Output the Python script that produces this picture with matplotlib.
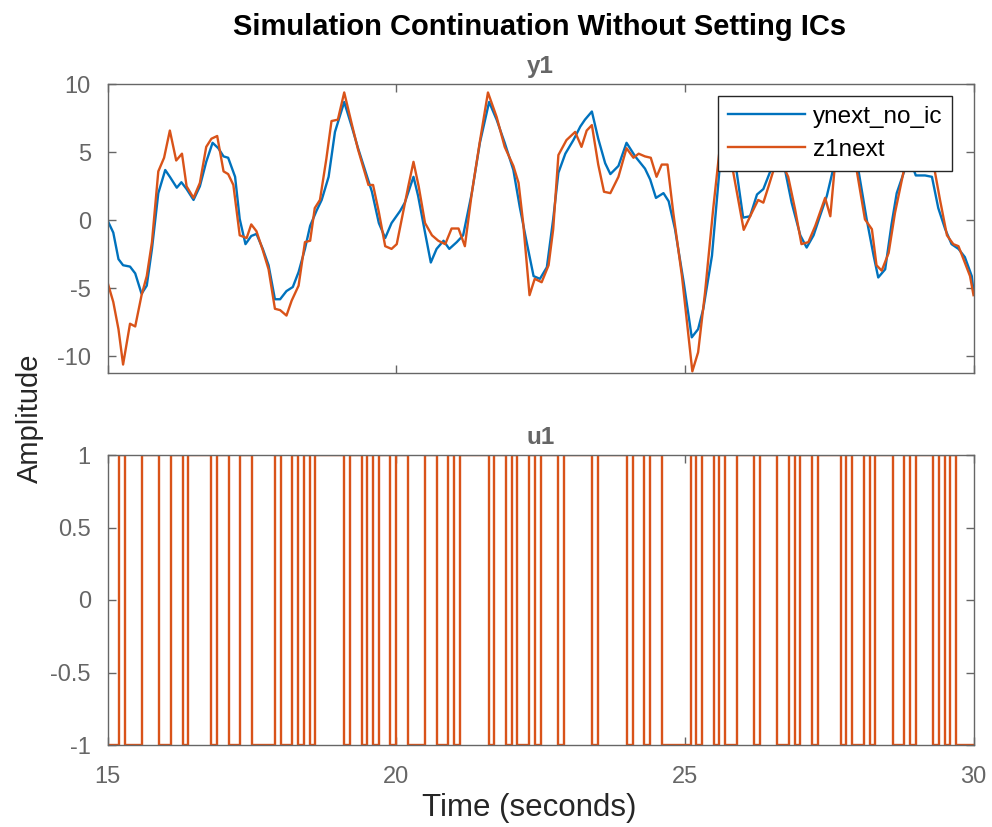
import numpy as np
import matplotlib
matplotlib.use('Agg')
from matplotlib import pyplot as plt

# y1 readings (time, amplitude) for each simulated/measured output
t_ynext = [15.0, 15.1, 15.19, 15.27, 15.39, 15.48, 15.59, 15.68, 15.77, 15.88,
           16.0, 16.08, 16.2, 16.28, 16.37, 16.49, 16.6, 16.71, 16.82, 16.92,
           17.01, 17.09, 17.21, 17.29, 17.39, 17.49, 17.58, 17.69, 17.79, 17.9,
           17.99, 18.1, 18.21, 18.31, 18.42, 18.51, 18.62, 18.71, 18.83, 18.94,
           19.1, 19.23, 19.34, 19.46, 19.58, 19.7, 19.81, 19.92, 20.07, 20.15,
           20.3, 20.38, 20.5, 20.6, 20.7, 20.82, 20.92, 21.05, 21.16, 21.31,
           21.45, 21.61, 21.74, 21.88, 22.03, 22.14, 22.26, 22.38, 22.49, 22.61,
           22.72, 22.81, 22.93, 23.07, 23.19, 23.27, 23.39, 23.5, 23.62, 23.71,
           23.85, 23.99, 24.14, 24.31, 24.4, 24.5, 24.63, 24.72, 24.83, 24.98,
           25.12, 25.23, 25.32, 25.47, 25.61, 25.73, 25.85, 26.01, 26.13, 26.25,
           26.36, 26.48, 26.6, 26.74, 26.85, 27.0, 27.11, 27.23, 27.34, 27.46,
           27.56, 27.8, 28.01, 28.15, 28.27, 28.35, 28.47, 28.58, 28.67, 28.8,
           28.9, 29.0, 29.16, 29.28, 29.39, 29.51, 29.62, 29.74, 29.85, 29.97,
           30.0]
y_ynext = [0.0, -0.9, -2.85, -3.3, -3.4, -3.9, -5.4, -4.8, -2.1, 2.0,
           3.7, 3.2, 2.4, 2.8, 2.3, 1.5, 2.5, 4.3, 5.7, 5.3,
           4.7, 4.6, 3.2, 0.1, -1.75, -1.15, -1.0, -2.1, -3.3, -5.8,
           -5.8, -5.2, -4.9, -3.8, -2.1, -0.4, 0.7, 1.5, 3.2, 6.5,
           8.7, 6.9, 5.3, 3.7, 2.1, -0.2, -1.3, -0.2, 0.7, 1.3,
           3.2, 1.8, -0.9, -3.1, -2.1, -1.5, -2.1, -1.6, -1.1, 2.0,
           5.7, 8.7, 7.4, 5.7, 3.7, 1.0, -1.6, -4.1, -4.3, -3.45,
           0.1, 3.5, 4.9, 5.9, 6.9, 7.4, 8.0, 6.0, 4.2, 3.4,
           4.0, 5.7, 4.7, 3.8, 3.0, 1.65, 2.0, 1.4, -0.65, -4.55,
           -8.6, -8.0, -6.5, -2.6, 4.2, 5.7, 5.0, 0.2, 0.3, 1.9,
           2.3, 3.6, 4.5, 3.6, 1.3, -1.1, -2.0, -1.1, 0.3, 1.8,
           3.6, 5.5, 3.6, 0.07, -2.6, -4.2, -3.6, -0.3, 2.0, 3.6,
           4.5, 3.3, 3.3, 3.2, 0.9, -0.65, -1.75, -2.1, -2.7, -4.1,
           -5.2]

t_z1 = [15.0, 15.1, 15.19, 15.27, 15.39, 15.48, 15.59, 15.68, 15.77, 15.88,
        15.98, 16.08, 16.19, 16.29, 16.37, 16.49, 16.6, 16.71, 16.8, 16.9,
        17.01, 17.09, 17.18, 17.29, 17.41, 17.49, 17.58, 17.69, 17.79, 17.9,
        17.99, 18.1, 18.19, 18.31, 18.42, 18.51, 18.59, 18.68, 18.79, 18.88,
        18.99, 19.1, 19.23, 19.34, 19.52, 19.6, 19.7, 19.81, 19.92, 20.01,
        20.12, 20.21, 20.3, 20.39, 20.5, 20.62, 20.73, 20.85, 20.96, 21.08,
        21.19, 21.31, 21.45, 21.59, 21.74, 21.88, 22.03, 22.12, 22.2, 22.31,
        22.4, 22.52, 22.64, 22.72, 22.81, 22.95, 23.1, 23.21, 23.3, 23.39,
        23.5, 23.6, 23.71, 23.85, 23.99, 24.11, 24.2, 24.31, 24.41, 24.51,
        24.6, 24.7, 24.8, 24.95, 25.03, 25.13, 25.23, 25.35, 25.49, 25.61,
        25.75, 25.84, 26.02, 26.16, 26.27, 26.36, 26.45, 26.53, 26.65, 26.79,
        26.91, 27.02, 27.14, 27.26, 27.43, 27.52, 27.59, 27.8, 27.98, 28.12,
        28.24, 28.32, 28.41, 28.53, 28.64, 28.79, 29.0, 29.33, 29.42, 29.54,
        29.65, 29.74, 29.85, 29.94, 30.0]
y_z1 = [-4.55, -6.0, -8.0, -10.6, -7.6, -7.8, -5.5, -4.1, -1.6, 3.6,
        4.6, 6.6, 4.4, 4.9, 2.5, 1.65, 2.75, 5.4, 6.0, 6.2,
        3.6, 3.4, 2.6, -1.1, -1.3, -0.3, -0.8, -2.2, -3.6, -6.5,
        -6.6, -7.0, -5.9, -4.8, -1.6, -1.5, 0.9, 1.5, 4.5, 7.3,
        7.4, 9.4, 7.1, 5.2, 2.6, 2.6, 0.6, -1.9, -2.1, -1.75,
        0.6, 2.5, 4.3, 2.5, -0.2, -1.1, -1.5, -1.75, -0.6, -0.6,
        -1.9, 2.0, 5.8, 9.4, 7.6, 5.4, 4.0, 2.75, -0.2, -5.5,
        -4.3, -4.55, -3.3, -0.65, 4.8, 5.9, 6.5, 5.4, 6.6, 7.0,
        4.1, 2.1, 2.0, 3.2, 5.3, 4.6, 4.9, 4.7, 4.6, 3.2,
        4.1, 4.1, 0.55, -4.1, -7.2, -11.1, -9.7, -5.3, 0.8, 5.5,
        5.8, 3.5, -0.7, 0.55, 1.5, 1.3, 2.5, 3.6, 4.5, 3.2,
        0.8, -1.75, -1.6, -0.4, 1.65, 0.3, 3.6, 5.5, 3.6, 0.07,
        -0.65, -3.3, -3.7, -2.4, 0.55, 3.6, 4.8, 3.6, 1.5, -1.1,
        -1.75, -1.9, -3.1, -4.1, -5.5]

# u1: binary input, one value per 0.1 s sample from 15.0 to 29.9
t0_u = 15.0
ts_u = 0.1
u1 = [-1, -1, 1, -1, -1, -1, 1, 1, 1, -1,
      -1, 1, 1, -1, 1, 1, 1, 1, -1, 1,
      1, -1, -1, 1, 1, -1, -1, -1, -1, 1,
      -1, -1, 1, -1, 1, -1, 1, 1, 1, 1,
      1, -1, 1, 1, -1, 1, -1, 1, 1, -1,
      1, 1, -1, -1, -1, 1, 1, -1, -1, 1,
      -1, 1, 1, 1, 1, 1, -1, 1, 1, -1,
      1, -1, -1, 1, -1, 1, 1, 1, -1, 1,
      1, 1, 1, 1, -1, 1, 1, 1, 1, 1,
      -1, 1, 1, -1, 1, 1, -1, -1, -1, -1,
      -1, 1, -1, 1, 1, -1, 1, -1, -1, 1,
      1, 1, -1, 1, 1, 1, -1, -1, 1, -1,
      1, 1, -1, 1, 1, 1, 1, -1, 1, -1,
      -1, 1, -1, 1, 1, 1, -1, -1, 1, -1,
      1, 1, 1, -1, 1, -1, 1, -1, -1, -1]

BLUE = '#0072BD'
ORANGE = '#D95319'
GRAY = '#666666'

plt.rcParams['font.family'] = ['Liberation Sans', 'DejaVu Sans']
plt.rcParams['axes.unicode_minus'] = False

W, H = 992, 827
fig = plt.figure(figsize=(W / 100.0, H / 100.0), dpi=100)


def px_axes(left, top, right, bottom):
    return fig.add_axes([left / W, 1 - bottom / H, (right - left) / W, (bottom - top) / H])


def style(ax):
    for sp in ax.spines.values():
        sp.set_color(GRAY)
        sp.set_linewidth(1.0)
    ax.tick_params(direction='in', length=6, width=1.0, colors=GRAY,
                   labelsize=17, top=True, right=True)
    ax.tick_params(axis='y', pad=12)
    ax.tick_params(axis='x', pad=15)
    ax.set_xlim(15, 30)
    ax.set_xticks([15, 20, 25, 30])


# top: y1
ax1 = px_axes(107.5, 84.3, 973.5, 372.7)
ax1.plot(t_ynext, y_ynext, color=BLUE, lw=1.7, label='ynext_no_ic')
ax1.plot(t_z1, y_z1, color=ORANGE, lw=1.7, label='z1next')
ax1.set_ylim(-11.2, 10)
ax1.set_yticks([-10, -5, 0, 5, 10])
style(ax1)
ax1.set_xticklabels([])
ax1.set_title('y1', fontsize=17.5, fontweight='bold', color=GRAY, pad=8)
leg = ax1.legend(loc='upper right', bbox_to_anchor=(0.975, 0.959), borderaxespad=0,
                 fontsize=17.5, frameon=True, fancybox=False, framealpha=1,
                 edgecolor='#262626', handlelength=3.2, handletextpad=0.3,
                 borderpad=0.4, labelspacing=0.45)
leg.get_frame().set_linewidth(1.0)

# bottom: u1
ax2 = px_axes(107.5, 455, 973.5, 745)
tu = [t0_u + ts_u * k for k in range(len(u1))] + [30.0]
ax2.plot(tu, u1 + [u1[-1]], color=ORANGE, lw=1.7, drawstyle='steps-post')
ax2.set_ylim(-1, 1)
ax2.set_yticks([-1, -0.5, 0, 0.5, 1])
ax2.set_yticklabels(['-1', '-0.5', '0', '0.5', '1'])
style(ax2)
ax2.set_title('u1', fontsize=17.5, fontweight='bold', color=GRAY, pad=8)

fig.text(540 / W, 1 - 27 / H, 'Simulation Continuation Without Setting ICs',
         ha='center', va='center', fontsize=21, fontweight='bold', color='black')
fig.text(529 / W, 1 - 808 / H, 'Time (seconds)', ha='center', va='center',
         fontsize=22.5, color='#262626')
fig.text(30 / W, 1 - 418 / H, 'Amplitude', ha='center', va='center',
         rotation=90, fontsize=21, color='#262626')

plt.savefig('out.png', dpi=100)
